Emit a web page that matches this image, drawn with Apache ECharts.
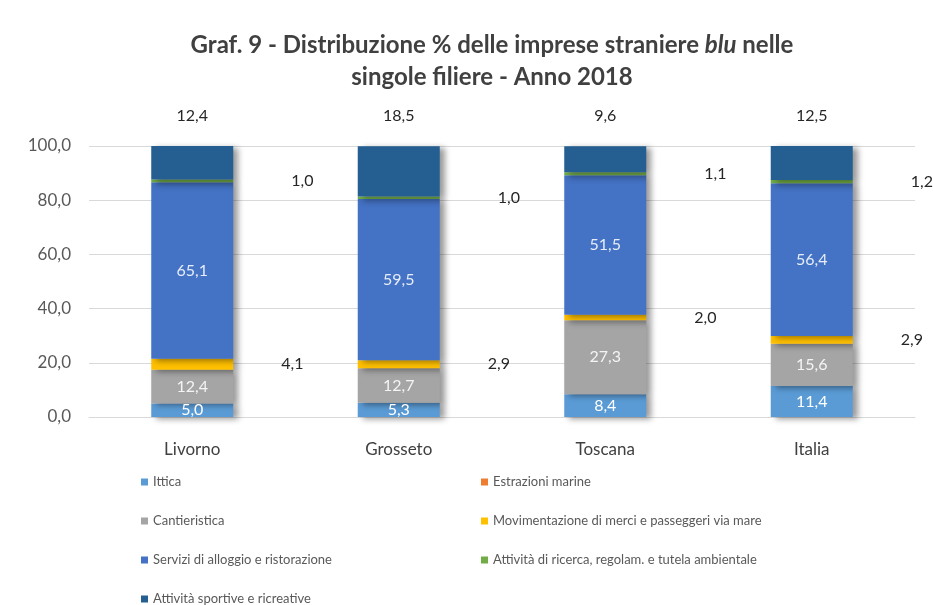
<!DOCTYPE html>
<html>
<head>
<meta charset="utf-8">
<script src="https://cdn.jsdelivr.net/npm/echarts@6/dist/echarts.min.js"></script>
<style>
  html, body { margin: 0; padding: 0; background: #fff; }
  #chart { width: 933px; height: 605px; }
</style>
</head>
<body>
<div id="chart"></div>
<script>
// dati
const categories = ['Livorno', 'Grosseto', 'Toscana', 'Italia'];
const ittica = [5.0, 5.3, 8.4, 11.4];
const estrazioni = [0, 0, 0, 0];
const cantieristica = [12.4, 12.7, 27.3, 15.6];
const movimentazione = [4.1, 2.9, 2.0, 2.9];
const servizi = [65.1, 59.5, 51.5, 56.4];
const ricerca = [1.0, 1.0, 1.1, 1.2];
const sportive = [12.4, 18.5, 9.6, 12.5];
const yTicks = [0, 20, 40, 60, 80, 100];

const fmt = v => v.toFixed(1).replace('.', ',');
const font = 'Lato, "Open Sans", sans-serif';

const shadow = {
    shadowColor: 'rgba(0,0,0,0.4)',
    shadowBlur: 6,
    shadowOffsetX: 5,
    shadowOffsetY: 2
};

function serie(name, data, color, label) {
    return {
        name: name,
        type: 'bar',
        stack: 'tot',
        barWidth: 82,
        data: data,
        itemStyle: Object.assign({ color: color }, shadow),
        label: label || { show: false }
    };
}

const legendBase = {
    orient: 'vertical',
    top: 470,
    height: 140,
    itemWidth: 7,
    itemHeight: 7,
    itemGap: 25,
    icon: 'rect',
    textStyle: { fontFamily: font, fontSize: 13, lineHeight: 14, color: '#595959' }
};

const chart = echarts.init(document.getElementById('chart'));
chart.setOption({
    animation: false,
    textStyle: { fontFamily: font },
    title: {
        text: '{b|Graf. 9 - Distribuzione % delle imprese straniere }{i|blu}{b| nelle}\n{b|singole filiere - Anno 2018}',
        left: 487,
        textAlign: 'center',
        top: 24,
        textStyle: {
            rich: {
                b: { fontFamily: font, fontSize: 24, fontWeight: 'bold', color: '#404040', lineHeight: 32 },
                i: { fontFamily: font, fontSize: 24, fontWeight: 'bold', fontStyle: 'italic', color: '#404040', lineHeight: 32 }
            }
        }
    },
    legend: [
        Object.assign({}, legendBase, {
            left: 136,
            data: ['Ittica', 'Cantieristica', 'Servizi di alloggio e ristorazione', 'Attività sportive e ricreative']
        }),
        Object.assign({}, legendBase, {
            left: 476,
            data: ['Estrazioni marine', 'Movimentazione di merci e passeggeri via mare', 'Attività di ricerca, regolam. e tutela ambientale']
        })
    ],
    grid: { left: 89, right: 18, top: 146, bottom: 188 },
    xAxis: {
        type: 'category',
        data: categories,
        axisTick: { show: false },
        axisLine: { lineStyle: { color: '#d9d9d9' } },
        axisLabel: { fontFamily: font, fontSize: 17, color: '#404040', margin: 24 }
    },
    yAxis: {
        type: 'value',
        min: yTicks[0],
        max: yTicks[yTicks.length - 1],
        interval: yTicks[1] - yTicks[0],
        axisLabel: { fontFamily: font, fontSize: 17, color: '#595959', margin: 18, formatter: v => fmt(v) },
        splitLine: { lineStyle: { color: '#d9d9d9' } }
    },
    series: [
        serie('Ittica', ittica, '#5B9BD5', {
            show: true, position: 'inside', color: '#ffffff', fontSize: 16, fontFamily: font,
            formatter: p => fmt(p.value)
        }),
        serie('Estrazioni marine', estrazioni, '#ED7D31'),
        serie('Cantieristica', cantieristica, '#A5A5A5', {
            show: true, position: 'inside', color: '#f4f4f4', fontSize: 16, fontFamily: font,
            formatter: p => fmt(p.value)
        }),
        serie('Movimentazione di merci e passeggeri via mare', movimentazione, '#FFC000', {
            show: true, position: 'right', distance: 48, color: '#262626', fontSize: 16, fontFamily: font,
            formatter: p => fmt(p.value)
        }),
        serie('Servizi di alloggio e ristorazione', servizi, '#4472C4', {
            show: true, position: 'inside', color: '#e6edf8', fontSize: 16, fontFamily: font,
            formatter: p => fmt(p.value)
        }),
        serie('Attività di ricerca, regolam. e tutela ambientale', ricerca, '#70AD47', {
            show: true, position: 'right', distance: 58, color: '#262626', fontSize: 16, fontFamily: font,
            formatter: p => fmt(p.value)
        }),
        serie('Attività sportive e ricreative', sportive, '#255E91', {
            show: true, position: 'top', distance: 22, color: '#262626', fontSize: 16, fontFamily: font,
            formatter: p => fmt(p.value)
        })
    ]
});
</script>
</body>
</html>
